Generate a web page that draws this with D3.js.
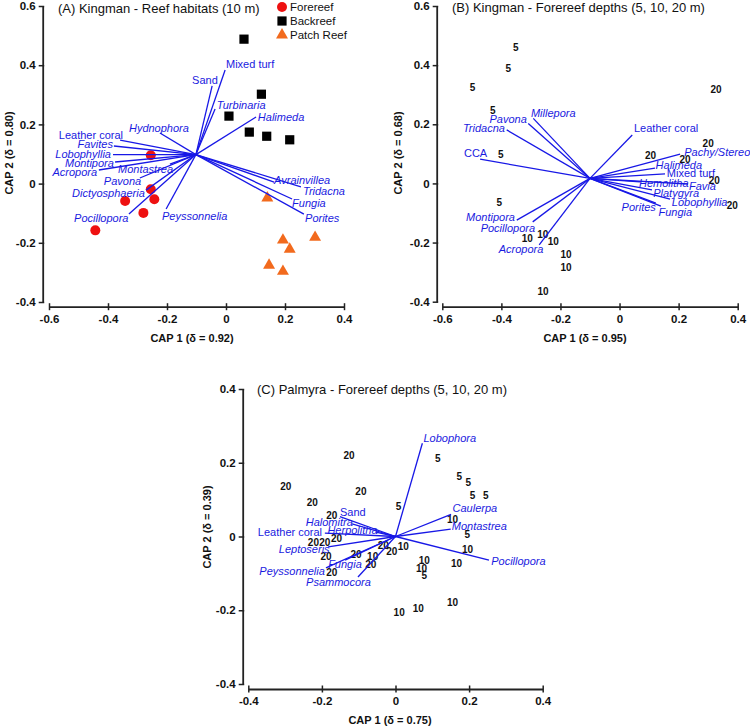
<!DOCTYPE html>
<html><head><meta charset="utf-8">
<script src="https://cdn.jsdelivr.net/npm/d3@7"></script>
<style>body{margin:0;background:#fff;} svg text{font-family:Arial,"Liberation Sans",sans-serif;}</style>
</head><body><svg id="c" width="750" height="726"></svg>
<script>
// ---------- shared ticks ----------
const ticksAB_X = [-0.6, -0.4, -0.2, 0, 0.2, 0.4];
const ticksAB_XLabels = ["-0.6", "-0.4", "-0.2", "0", "0.2", "0.4"];
const ticksAB_Y = [-0.4, -0.2, 0, 0.2, 0.4, 0.6];
const ticksAB_YLabels = ["-0.4", "-0.2", "0", "0.2", "0.4", "0.6"];
const ticksC = [-0.4, -0.2, 0, 0.2, 0.4];
const ticksCLabels = ["-0.4", "-0.2", "0", "0.2", "0.4"];

// ---------- Panel A ----------
const aTitle = "(A) Kingman - Reef habitats (10 m)";
const aXTitle = "CAP 1 (δ = 0.92)", aYTitle = "CAP 2 (δ = 0.80)";
const legendNames = ["Forereef", "Backreef", "Patch Reef"];
const aForereefX = [-0.255, -0.255, -0.342, -0.243, -0.280, -0.443];
const aForereefY = [0.096, -0.019, -0.059, -0.053, -0.099, -0.158];
const aBackreefX = [0.061, 0.120, 0.010, 0.079, 0.138, 0.216];
const aBackreefY = [0.488, 0.302, 0.228, 0.174, 0.160, 0.148];
const aPatchX = [0.140, 0.193, 0.302, 0.216, 0.146, 0.193];
const aPatchY = [-0.047, -0.189, -0.180, -0.220, -0.274, -0.295];
const aOrigin = [-0.102, 0.098];
const aVecNames = ["Leather coral", "Favites", "Lobophyllia", "Montipora", "Acropora", "Hydnophora", "Montastrea", "Pavona", "Dictyosphaeria", "Pocillopora", "Peyssonnelia", "Sand", "Mixed turf", "Turbinaria", "Halimeda", "Avrainvillea", "Tridacna", "Fungia", "Porites"];
const aVecX = [-0.359, -0.380, -0.383, -0.376, -0.431, -0.224, -0.190, -0.292, -0.271, -0.329, -0.203, -0.047, -0.003, -0.037, 0.102, 0.163, 0.254, 0.224, 0.264];
const aVecY = [0.147, 0.127, 0.098, 0.073, 0.046, 0.171, 0.066, 0.019, -0.022, -0.103, -0.086, 0.330, 0.384, 0.252, 0.225, 0.005, -0.011, -0.052, -0.103];
const aLabX = [-0.349, -0.383, -0.390, -0.380, -0.437, -0.329, -0.366, -0.414, -0.522, -0.515, -0.217, -0.115, 0.000, -0.031, 0.108, 0.163, 0.261, 0.224, 0.268];
const aLabY = [0.164, 0.134, 0.100, 0.070, 0.039, 0.188, 0.049, 0.009, -0.032, -0.116, -0.110, 0.350, 0.404, 0.266, 0.225, 0.012, -0.025, -0.066, -0.116];
const aLabAnchor = ["end", "end", "end", "end", "end", "start", "start", "start", "start", "start", "start", "start", "start", "start", "start", "start", "start", "start", "start"];

// ---------- Panel B ----------
const bTitle = "(B) Kingman - Forereef depths (5, 10, 20 m)";
const bXTitle = "CAP 1 (δ = 0.95)", bYTitle = "CAP 2 (δ = 0.68)";
const bDepth = ["5", "5", "5", "5", "5", "5", "10", "10", "10", "10", "10", "10", "20", "20", "20", "20", "20", "20"];
const bDepthX = [-0.351, -0.377, -0.498, -0.429, -0.402, -0.407, -0.312, -0.260, -0.224, -0.181, -0.181, -0.259, 0.327, 0.300, 0.105, 0.222, 0.321, 0.382];
const bDepthY = [0.459, 0.389, 0.324, 0.248, 0.099, -0.065, -0.186, -0.172, -0.197, -0.239, -0.284, -0.366, 0.316, 0.136, 0.096, 0.082, 0.009, -0.076];
const bOrigin = [-0.100, 0.017];
const bVecNames = ["Millepora", "Pavona", "Tridacna", "CCA", "Leather coral", "Pachy/Stereo", "Halimeda", "Mixed turf", "Hemolitha", "Favia", "Platygyra", "Lobophyllia", "Porites", "Fungia", "Montipora", "Pocillopora", "Acropora"];
const bVecX = [-0.292, -0.309, -0.382, -0.472, 0.043, 0.205, 0.120, 0.154, 0.069, 0.232, 0.110, 0.171, 0.123, 0.140, -0.348, -0.294, -0.272];
const bVecY = [0.220, 0.203, 0.181, 0.082, 0.164, 0.099, 0.052, 0.032, 0.005, -0.002, -0.022, -0.053, -0.067, -0.077, -0.124, -0.130, -0.208];
const bLabX = [-0.300, -0.314, -0.388, -0.448, 0.049, 0.219, 0.122, 0.160, 0.066, 0.235, 0.114, 0.177, 0.007, 0.132, -0.354, -0.286, -0.258];
const bLabY = [0.237, 0.218, 0.186, 0.102, 0.188, 0.107, 0.062, 0.034, 0.002, -0.009, -0.033, -0.064, -0.079, -0.096, -0.113, -0.150, -0.223];
const bLabAnchor = ["start", "end", "end", "end", "start", "start", "start", "start", "start", "start", "start", "start", "start", "start", "end", "end", "end"];

// ---------- Panel C ----------
const cTitle = "(C) Palmyra - Forereef depths (5, 10, 20 m)";
const cXTitle = "CAP 1 (δ = 0.75)", cYTitle = "CAP 2 (δ = 0.39)";
const cDepth = ["20", "20", "20", "20", "20", "20", "20", "20", "20", "20", "20", "20", "20", "20",
  "5", "5", "5", "5", "5", "5", "5", "5",
  "10", "10", "10", "10", "10", "10", "10", "10", "10", "10"];
const cDepthX = [-0.126, -0.298, -0.094, -0.226, -0.173, -0.223, -0.192, -0.160, -0.189, -0.107, -0.173, -0.067, -0.033, -0.010,
  0.008, 0.115, 0.173, 0.198, 0.209, 0.245, 0.195, 0.078,
  0.155, 0.196, 0.021, 0.078, 0.071, 0.166, 0.155, 0.062, 0.010, -0.062];
const cDepthY = [0.221, 0.135, 0.121, 0.093, 0.056, -0.016, -0.016, -0.005, -0.053, -0.050, -0.097, -0.075, -0.025, -0.041,
  0.081, 0.212, 0.164, 0.146, 0.111, 0.111, 0.006, -0.107,
  0.045, -0.034, -0.028, -0.066, -0.086, -0.073, -0.178, -0.195, -0.206, -0.055];
const cOrigin = [0, 0];
const cVecNames = ["Lobophora", "Caulerpa", "Montastrea", "Pocillopora", "Sand", "Halomitra", "Leather coral", "Herpolitha", "Leptoseris", "Fungia", "Peyssonnelia", "Psammocora"];
const cVecX = [0.073, 0.151, 0.150, 0.254, -0.151, -0.118, -0.192, -0.053, -0.183, -0.137, -0.189, -0.102];
const cVecY = [0.253, 0.060, 0.020, -0.064, 0.054, 0.034, 0.009, 0.012, -0.028, -0.064, -0.085, -0.110];
const cLabX = [0.076, 0.155, 0.153, 0.260, -0.151, -0.244, -0.374, -0.185, -0.317, -0.183, -0.370, -0.243];
const cLabY = [0.268, 0.076, 0.027, -0.068, 0.065, 0.040, 0.011, 0.016, -0.034, -0.075, -0.093, -0.124];
const cLabAnchor = ["start", "start", "start", "start", "start", "start", "start", "start", "start", "start", "start", "start"];

const nonItalic = ["Leather coral", "Sand", "Mixed turf", "CCA"];

// ---------- drawing ----------
const svg = d3.select("#c");
const BLUE_LINE = "#1818e6", BLUE_TEXT = "#1a1ae0";
const FONT = "Arial, 'Liberation Sans', sans-serif";

function drawPanel(cfg) {
  const x = d3.scaleLinear().domain(cfg.xDomain).range(cfg.xRange);
  const y = d3.scaleLinear().domain(cfg.yDomain).range(cfg.yRange);
  const g = svg.append("g");

  const ax = g.append("g").attr("transform", `translate(0,${cfg.xAxisY})`)
    .call(d3.axisBottom(x).tickValues(cfg.xTicks).tickFormat((d, i) => cfg.xTickLabels[i])
      .tickSizeOuter(0).tickSizeInner(3).tickPadding(5));
  ax.selectAll(".tick line").attr("y1", -3.5).attr("y2", 3.5);
  const ay = g.append("g").attr("transform", `translate(${cfg.yAxisX},0)`)
    .call(d3.axisLeft(y).tickValues(cfg.yTicks).tickFormat((d, i) => cfg.yTickLabels[i])
      .tickSizeOuter(0).tickSizeInner(4).tickPadding(3));
  ay.selectAll(".tick line").attr("x1", 1.5).attr("x2", -4);
  [ax, ay].forEach(a => {
    a.attr("font-family", FONT).attr("font-size", 11.5).attr("font-weight", "bold");
    a.select(".domain").attr("stroke", "#222").attr("stroke-width", 1.8);
    a.selectAll(".tick line").attr("stroke", "#222").attr("stroke-width", 1.5);
    a.selectAll(".tick text").attr("fill", "#111");
  });

  // axis titles
  g.append("text").attr("x", cfg.xTitlePos[0]).attr("y", cfg.xTitlePos[1]).attr("dy", "0.35em")
    .attr("text-anchor", "middle").attr("font-size", 11).attr("font-weight", "bold").attr("fill", "#111")
    .text(cfg.xTitle);
  g.append("text").attr("transform", `translate(${cfg.yTitlePos[0]},${cfg.yTitlePos[1]}) rotate(-90)`)
    .attr("dy", "0.35em").attr("text-anchor", "middle").attr("font-size", 11).attr("font-weight", "bold")
    .attr("fill", "#111").text(cfg.yTitle);
  // panel title
  g.append("text").attr("x", cfg.titlePos[0]).attr("y", cfg.titlePos[1]).attr("dy", "0.35em")
    .attr("font-size", 13).attr("fill", "#111").text(cfg.title);

  if (cfg.draw) cfg.draw(g, x, y);

  // depth labels
  if (cfg.depth) {
    g.append("g").selectAll("text").data(cfg.depth).join("text")
      .attr("x", (d, i) => x(cfg.depthX[i])).attr("y", (d, i) => y(cfg.depthY[i]))
      .attr("dy", "0.35em").attr("text-anchor", "middle")
      .attr("font-size", 10).attr("font-weight", "bold").attr("fill", "#111").text(d => d);
  }

  // vectors
  g.append("g").selectAll("line").data(cfg.vecNames).join("line")
    .attr("x1", x(cfg.origin[0])).attr("y1", y(cfg.origin[1]))
    .attr("x2", (d, i) => x(cfg.vecX[i])).attr("y2", (d, i) => y(cfg.vecY[i]))
    .attr("stroke", BLUE_LINE).attr("stroke-width", 1.3);
  g.append("g").selectAll("text").data(cfg.vecNames).join("text")
    .attr("x", (d, i) => x(cfg.labX[i])).attr("y", (d, i) => y(cfg.labY[i]))
    .attr("dy", "0.35em").attr("text-anchor", (d, i) => cfg.labAnchor[i])
    .attr("font-size", 11).attr("font-style", d => nonItalic.includes(d) ? "normal" : "italic")
    .attr("fill", BLUE_TEXT).text(d => d);
}

// Panel A
drawPanel({
  xDomain: [-0.6, 0.4], xRange: [49, 344], yDomain: [-0.4, 0.6], yRange: [302, 6],
  xAxisY: 306.7, yAxisX: 42.7,
  xTicks: ticksAB_X, xTickLabels: ticksAB_XLabels, yTicks: ticksAB_Y, yTickLabels: ticksAB_YLabels,
  xTitle: aXTitle, yTitle: aYTitle, xTitlePos: [192, 338], yTitlePos: [9, 153],
  title: aTitle, titlePos: [58, 8],
  origin: aOrigin, vecNames: aVecNames, vecX: aVecX, vecY: aVecY,
  labX: aLabX, labY: aLabY, labAnchor: aLabAnchor,
  draw: (g, x, y) => {
    g.append("g").selectAll("circle").data(aForereefX).join("circle")
      .attr("cx", d => x(d)).attr("cy", (d, i) => y(aForereefY[i])).attr("r", 5).attr("fill", "#ee1111");
    g.append("g").selectAll("rect").data(aBackreefX).join("rect")
      .attr("x", d => x(d) - 4.6).attr("y", (d, i) => y(aBackreefY[i]) - 4.6)
      .attr("width", 9.2).attr("height", 9.2).attr("fill", "#000");
    const tri = d3.symbol().type(d3.symbolTriangle).size(62);
    g.append("g").selectAll("path").data(aPatchX).join("path")
      .attr("d", tri).attr("transform", (d, i) => `translate(${x(d)},${y(aPatchY[i]) + 0.5})`)
      .attr("fill", "#f26a1d");
    // legend
    const lg = g.append("g");
    const ly = [7, 21, 34.5];
    lg.append("circle").attr("cx", 282).attr("cy", ly[0]).attr("r", 5).attr("fill", "#ee1111");
    lg.append("rect").attr("x", 277.4).attr("y", ly[1] - 4.6).attr("width", 9.2).attr("height", 9.2).attr("fill", "#000");
    lg.append("path").attr("d", tri).attr("transform", `translate(282,${ly[2] + 0.5})`).attr("fill", "#f26a1d");
    lg.selectAll("text").data(legendNames).join("text")
      .attr("x", 290).attr("y", (d, i) => ly[i]).attr("dy", "0.35em")
      .attr("font-size", 11.5).attr("fill", "#111").text(d => d);
  }
});

// Panel B
drawPanel({
  xDomain: [-0.6, 0.4], xRange: [442.3, 737.7], yDomain: [-0.4, 0.6], yRange: [301.7, 6],
  xAxisY: 306.7, yAxisX: 436.7,
  xTicks: ticksAB_X, xTickLabels: ticksAB_XLabels, yTicks: ticksAB_Y, yTickLabels: ticksAB_YLabels,
  xTitle: bXTitle, yTitle: bYTitle, xTitlePos: [585, 338], yTitlePos: [398, 153],
  title: bTitle, titlePos: [452, 7],
  depth: bDepth, depthX: bDepthX, depthY: bDepthY,
  origin: bOrigin, vecNames: bVecNames, vecX: bVecX, vecY: bVecY,
  labX: bLabX, labY: bLabY, labAnchor: bLabAnchor
});

// Panel C
drawPanel({
  xDomain: [-0.4, 0.4], xRange: [248.3, 542.7], yDomain: [-0.4, 0.4], yRange: [684, 389],
  xAxisY: 689, yAxisX: 242.7,
  xTicks: ticksC, xTickLabels: ticksCLabels, yTicks: ticksC, yTickLabels: ticksCLabels,
  xTitle: cXTitle, yTitle: cYTitle, xTitlePos: [390, 720], yTitlePos: [207, 527],
  title: cTitle, titlePos: [257, 389],
  depth: cDepth, depthX: cDepthX, depthY: cDepthY,
  origin: cOrigin, vecNames: cVecNames, vecX: cVecX, vecY: cVecY,
  labX: cLabX, labY: cLabY, labAnchor: cLabAnchor
});
</script>
</body></html>
